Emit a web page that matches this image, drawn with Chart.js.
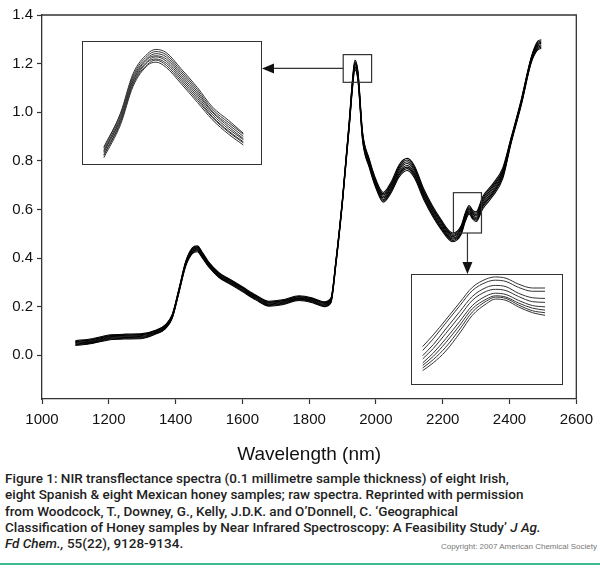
<!DOCTYPE html>
<html>
<head>
<meta charset="utf-8">
<script src="https://cdn.jsdelivr.net/npm/chart.js@4"></script>
<style>
  html, body { margin: 0; padding: 0; background: #fff; }
  #wrap { position: relative; width: 600px; height: 571px; overflow: hidden; }
  #main { position: absolute; left: 0; top: 0; }
  .inset { position: absolute; background: #fff; border: 1.5px solid #333; box-sizing: border-box; }
  .inset canvas { display: block; }
  #inset1 { left: 82px; top: 41px; width: 180px; height: 124px; }
  #inset2 { left: 411px; top: 274px; width: 152px; height: 111px; }
  #caption { position: absolute; left: 5px; top: 470px; white-space: nowrap;
             font-family: Roboto, "Liberation Sans", sans-serif; font-weight: 500;
             font-size: 13.5px; line-height: 16.3px; color: #222; }
  #copy { position: absolute; right: 3px; top: 542px; font: 8px "Liberation Sans", sans-serif; color: #777; }
  #rule { position: absolute; left: 0; top: 563px; width: 600px; height: 2px; background: #3dbb8f; }
</style>
</head>
<body>
<div id="wrap">
  <canvas id="main" width="600" height="470"></canvas>
  <div class="inset" id="inset1"><canvas id="c1" width="177" height="121"></canvas></div>
  <div class="inset" id="inset2"><canvas id="c2" width="149" height="108"></canvas></div>
  <div id="caption">
    Figure 1: NIR transflectance spectra (0.1 millimetre sample thickness) of eight Irish,<br>
    eight Spanish &amp; eight Mexican honey samples; raw spectra. Reprinted with permission<br>
    from Woodcock, T., Downey, G., Kelly, J.D.K. and O’Donnell, C. ‘Geographical<br>
    Classification of Honey samples by Near Infrared Spectroscopy: A Feasibility Study’ <i>J Ag.</i><br>
    <i>Fd Chem.,</i> 55(22), 9128-9134.
  </div>
  <div id="copy">Copyright: 2007 American Chemical Society</div>
  <div id="rule"></div>
</div>

<script>
// wavelengths (nm) sampled along the spectra
const wavelengths = [1100, 1150, 1200, 1250, 1300, 1340, 1370, 1390, 1410, 1430,
  1450, 1465, 1480, 1500, 1530, 1560, 1600, 1640, 1680, 1720,
  1770, 1810, 1845, 1865, 1880, 1900, 1920, 1930, 1937, 1946,
  1960, 1980, 2000, 2022, 2045, 2070, 2094, 2115, 2144, 2194,
  2230, 2255, 2268, 2279, 2290, 2300, 2320, 2350, 2380, 2404,
  2435, 2465, 2485, 2495];

// raw spectra (absorbance)
const spec1 = [.060,.068,.083,.087,.089,.103,.126,.168,.273,.385,.442,.450,.424,.382,.340,.315,.282,.248,.222,.228,.245,.236,.220,.235,.390,.650,.965,1.140,1.215,1.170,.918,.808,.723,.670,.712,.785,.810,.780,.682,.560,.503,.533,.588,.616,.596,.590,.653,.705,.772,.892,1.052,1.227,1.293,1.298];
const spec2 = [.057,.065,.080,.084,.086,.101,.124,.166,.271,.382,.438,.446,.420,.379,.337,.312,.279,.245,.219,.225,.242,.233,.217,.232,.387,.647,.961,1.134,1.209,1.164,.913,.803,.718,.664,.705,.778,.803,.773,.675,.554,.498,.528,.583,.611,.591,.584,.646,.698,.765,.888,1.048,1.223,1.288,1.293];
const spec3 = [.055,.063,.078,.082,.084,.099,.122,.164,.269,.380,.435,.443,.417,.377,.335,.310,.277,.243,.217,.223,.240,.231,.215,.230,.385,.645,.957,1.129,1.204,1.159,.908,.798,.713,.659,.700,.771,.796,.766,.670,.549,.493,.523,.578,.606,.586,.579,.639,.691,.760,.885,1.045,1.220,1.283,1.288];
const spec4 = [.052,.060,.075,.079,.081,.096,.119,.161,.266,.377,.432,.440,.414,.374,.332,.307,.274,.240,.214,.220,.237,.228,.212,.227,.382,.642,.952,1.123,1.198,1.153,.903,.793,.708,.653,.693,.764,.789,.759,.663,.543,.488,.518,.573,.601,.581,.573,.632,.684,.753,.882,1.042,1.217,1.278,1.283];
const spec5 = [.049,.057,.072,.076,.078,.094,.117,.159,.264,.374,.428,.436,.410,.371,.329,.304,.271,.237,.211,.217,.234,.225,.209,.224,.379,.639,.948,1.117,1.192,1.147,.897,.787,.702,.647,.687,.756,.781,.751,.657,.537,.482,.512,.567,.595,.575,.567,.624,.676,.747,.878,1.038,1.213,1.272,1.277];
const spec6 = [.046,.054,.069,.073,.075,.091,.114,.156,.261,.371,.425,.433,.407,.368,.326,.301,.268,.234,.208,.214,.231,.222,.206,.221,.376,.636,.943,1.111,1.186,1.141,.892,.782,.697,.641,.680,.749,.774,.744,.650,.531,.477,.507,.562,.590,.570,.561,.617,.669,.740,.875,1.035,1.210,1.267,1.272];
const spec7 = [.043,.051,.066,.070,.072,.089,.112,.154,.259,.368,.422,.430,.404,.365,.323,.298,.265,.231,.205,.211,.228,.219,.203,.218,.373,.633,.940,1.106,1.181,1.136,.887,.777,.692,.636,.675,.743,.768,.738,.645,.526,.472,.502,.557,.585,.565,.556,.611,.663,.735,.872,1.032,1.207,1.262,1.267];
const spec8 = [.040,.048,.063,.067,.069,.087,.110,.152,.257,.365,.418,.426,.400,.362,.320,.295,.262,.228,.202,.208,.225,.216,.200,.215,.370,.630,.935,1.100,1.175,1.130,.882,.772,.687,.630,.668,.735,.760,.730,.638,.520,.467,.497,.552,.580,.560,.550,.603,.655,.728,.868,1.028,1.203,1.257,1.262];

// inset 1: magnified water band peak
const inset1Wl = [1912, 1920, 1926, 1933, 1937, 1942, 1949, 1957, 1964, 1972, 1979];
const inset1A = [1.138,1.170,1.207,1.226,1.230,1.227,1.212,1.194,1.176,1.163,1.151];
const inset1B = [1.137,1.169,1.205,1.224,1.228,1.225,1.210,1.192,1.174,1.161,1.150];
const inset1C = [1.135,1.167,1.203,1.222,1.226,1.223,1.208,1.190,1.172,1.159,1.148];
const inset1D = [1.134,1.165,1.201,1.221,1.224,1.221,1.206,1.188,1.171,1.157,1.146];
const inset1E = [1.133,1.164,1.200,1.219,1.223,1.219,1.204,1.186,1.169,1.155,1.145];
const inset1F = [1.131,1.162,1.198,1.218,1.221,1.217,1.202,1.184,1.167,1.153,1.143];
const inset1G = [1.130,1.161,1.197,1.216,1.220,1.215,1.200,1.182,1.166,1.152,1.142];
const inset1H = [1.128,1.159,1.195,1.215,1.218,1.213,1.198,1.180,1.164,1.150,1.140];

// inset 2: magnified shoulder near 2280 nm
const inset2Wl = [2238, 2244, 2251, 2259, 2266, 2274, 2279, 2285, 2292, 2300, 2307];
const inset2A = [.559,.577,.600,.627,.650,.663,.666,.664,.655,.649,.649];
const inset2B = [.553,.571,.595,.622,.645,.658,.661,.659,.650,.644,.644];
const inset2C = [.545,.562,.586,.613,.636,.650,.653,.651,.641,.634,.633];
const inset2D = [.540,.556,.579,.606,.630,.644,.647,.645,.636,.628,.627];
const inset2E = [.534,.549,.571,.598,.622,.637,.641,.639,.630,.622,.620];
const inset2F = [.530,.544,.565,.592,.617,.632,.637,.635,.626,.618,.615];
const inset2G = [.526,.539,.558,.586,.612,.629,.635,.633,.623,.614,.611];
const inset2H = [.522,.534,.552,.580,.607,.625,.632,.630,.620,.611,.607];

// zoom windows marked on the main plot (data units)
const zoom1Wl = [1902, 1987], zoom1Abs = [1.123, 1.237];
const zoom2Wl = [2232, 2316], zoom2Abs = [0.503, 0.669];

const xTickValues = [1000, 1200, 1400, 1600, 1800, 2000, 2200, 2400, 2600];
const yTickValues = [0.0, 0.2, 0.4, 0.6, 0.8, 1.0, 1.2, 1.4];

const axisColor = '#333';
const tickFont = { family: 'Liberation Sans', size: 15 };

function pts(xs, ys) {
  return xs.map((x, i) => ({ x: x, y: ys[i] }));
}

function lineSet(xs, list, width, color) {
  return list.map(ys => ({
    data: pts(xs, ys),
    borderColor: color,
    borderWidth: width,
    pointRadius: 0,
    fill: false,
    cubicInterpolationMode: 'monotone'
  }));
}

// frame, zoom boxes and arrows
const overlay = {
  id: 'overlay',
  afterDraw(chart) {
    const { ctx, chartArea: a, scales: { x, y } } = chart;
    ctx.save();
    ctx.strokeStyle = axisColor;
    ctx.lineWidth = 1.3;
    ctx.beginPath();
    ctx.moveTo(a.left, a.top);
    ctx.lineTo(a.right, a.top);
    ctx.lineTo(a.right, a.bottom);
    ctx.stroke();

    ctx.lineWidth = 1.2;
    const b1 = [x.getPixelForValue(zoom1Wl[0]), y.getPixelForValue(zoom1Abs[1]),
                x.getPixelForValue(zoom1Wl[1]), y.getPixelForValue(zoom1Abs[0])];
    const b2 = [x.getPixelForValue(zoom2Wl[0]), y.getPixelForValue(zoom2Abs[1]),
                x.getPixelForValue(zoom2Wl[1]), y.getPixelForValue(zoom2Abs[0])];
    ctx.strokeRect(b1[0], b1[1], b1[2] - b1[0], b1[3] - b1[1]);
    ctx.strokeRect(b2[0], b2[1], b2[2] - b2[0], b2[3] - b2[1]);

    ctx.fillStyle = '#111';
    // arrow to inset 1 (left)
    const ym = (b1[1] + b1[3]) / 2;
    const tip1 = 262;
    ctx.beginPath();
    ctx.moveTo(b1[0], ym);
    ctx.lineTo(tip1 + 10, ym);
    ctx.stroke();
    ctx.beginPath();
    ctx.moveTo(tip1, ym);
    ctx.lineTo(tip1 + 12, ym - 5);
    ctx.lineTo(tip1 + 12, ym + 5);
    ctx.closePath();
    ctx.fill();

    // arrow to inset 2 (down)
    const xm = (b2[0] + b2[2]) / 2;
    const tip2 = 274;
    ctx.beginPath();
    ctx.moveTo(xm, b2[3]);
    ctx.lineTo(xm, tip2 - 10);
    ctx.stroke();
    ctx.beginPath();
    ctx.moveTo(xm, tip2);
    ctx.lineTo(xm - 5, tip2 - 12);
    ctx.lineTo(xm + 5, tip2 - 12);
    ctx.closePath();
    ctx.fill();
    ctx.restore();
  }
};

new Chart(document.getElementById('main'), {
  type: 'line',
  data: {
    datasets: lineSet(wavelengths, [spec1, spec2, spec3, spec4, spec5, spec6, spec7, spec8], 1.05, '#000')
  },
  options: {
    responsive: false,
    animation: false,
    layout: { padding: { top: 15, right: 23, left: 0, bottom: 0 } },
    plugins: { legend: { display: false }, tooltip: { enabled: false } },
    scales: {
      x: {
        type: 'linear',
        min: 1000,
        max: 2600,
        afterBuildTicks: axis => { axis.ticks = xTickValues.map(v => ({ value: v })); },
        afterFit: axis => { axis.height = 71; },
        grid: { drawOnChartArea: false, drawTicks: true, tickLength: 5, color: axisColor, tickWidth: 1.2 },
        border: { display: true, color: axisColor, width: 1.3 },
        ticks: { font: tickFont, color: '#111', padding: 7, maxRotation: 0,
                 callback: v => String(v) },
        title: { display: true, text: 'Wavelength (nm)', color: '#111',
                 font: { family: 'Liberation Sans', size: 19 }, padding: { top: 0, bottom: 4 } }
      },
      y: {
        min: -0.18,
        max: 1.4,
        afterBuildTicks: axis => { axis.ticks = yTickValues.map(v => ({ value: v })); },
        afterFit: axis => { axis.width = 42; },
        grid: { drawOnChartArea: false, drawTicks: true, tickLength: 5, color: axisColor, tickWidth: 1.2 },
        border: { display: true, color: axisColor, width: 1.3 },
        ticks: { font: tickFont, color: '#111', padding: 4,
                 callback: v => v.toFixed(1) }
      }
    }
  },
  plugins: [overlay]
});

function insetChart(id, xs, list, xr, yr) {
  new Chart(document.getElementById(id), {
    type: 'line',
    data: { datasets: lineSet(xs, list, 1, '#333') },
    options: {
      responsive: false,
      animation: false,
      layout: { padding: 0 },
      plugins: { legend: { display: false }, tooltip: { enabled: false } },
      scales: {
        x: { type: 'linear', min: xr[0], max: xr[1], display: false },
        y: { min: yr[0], max: yr[1], display: false }
      }
    }
  });
}

insetChart('c1', inset1Wl, [inset1A, inset1B, inset1C, inset1D, inset1E, inset1F, inset1G, inset1H], zoom1Wl, zoom1Abs);
insetChart('c2', inset2Wl, [inset2A, inset2B, inset2C, inset2D, inset2E, inset2F, inset2G, inset2H], zoom2Wl, zoom2Abs);
</script>
</body>
</html>
